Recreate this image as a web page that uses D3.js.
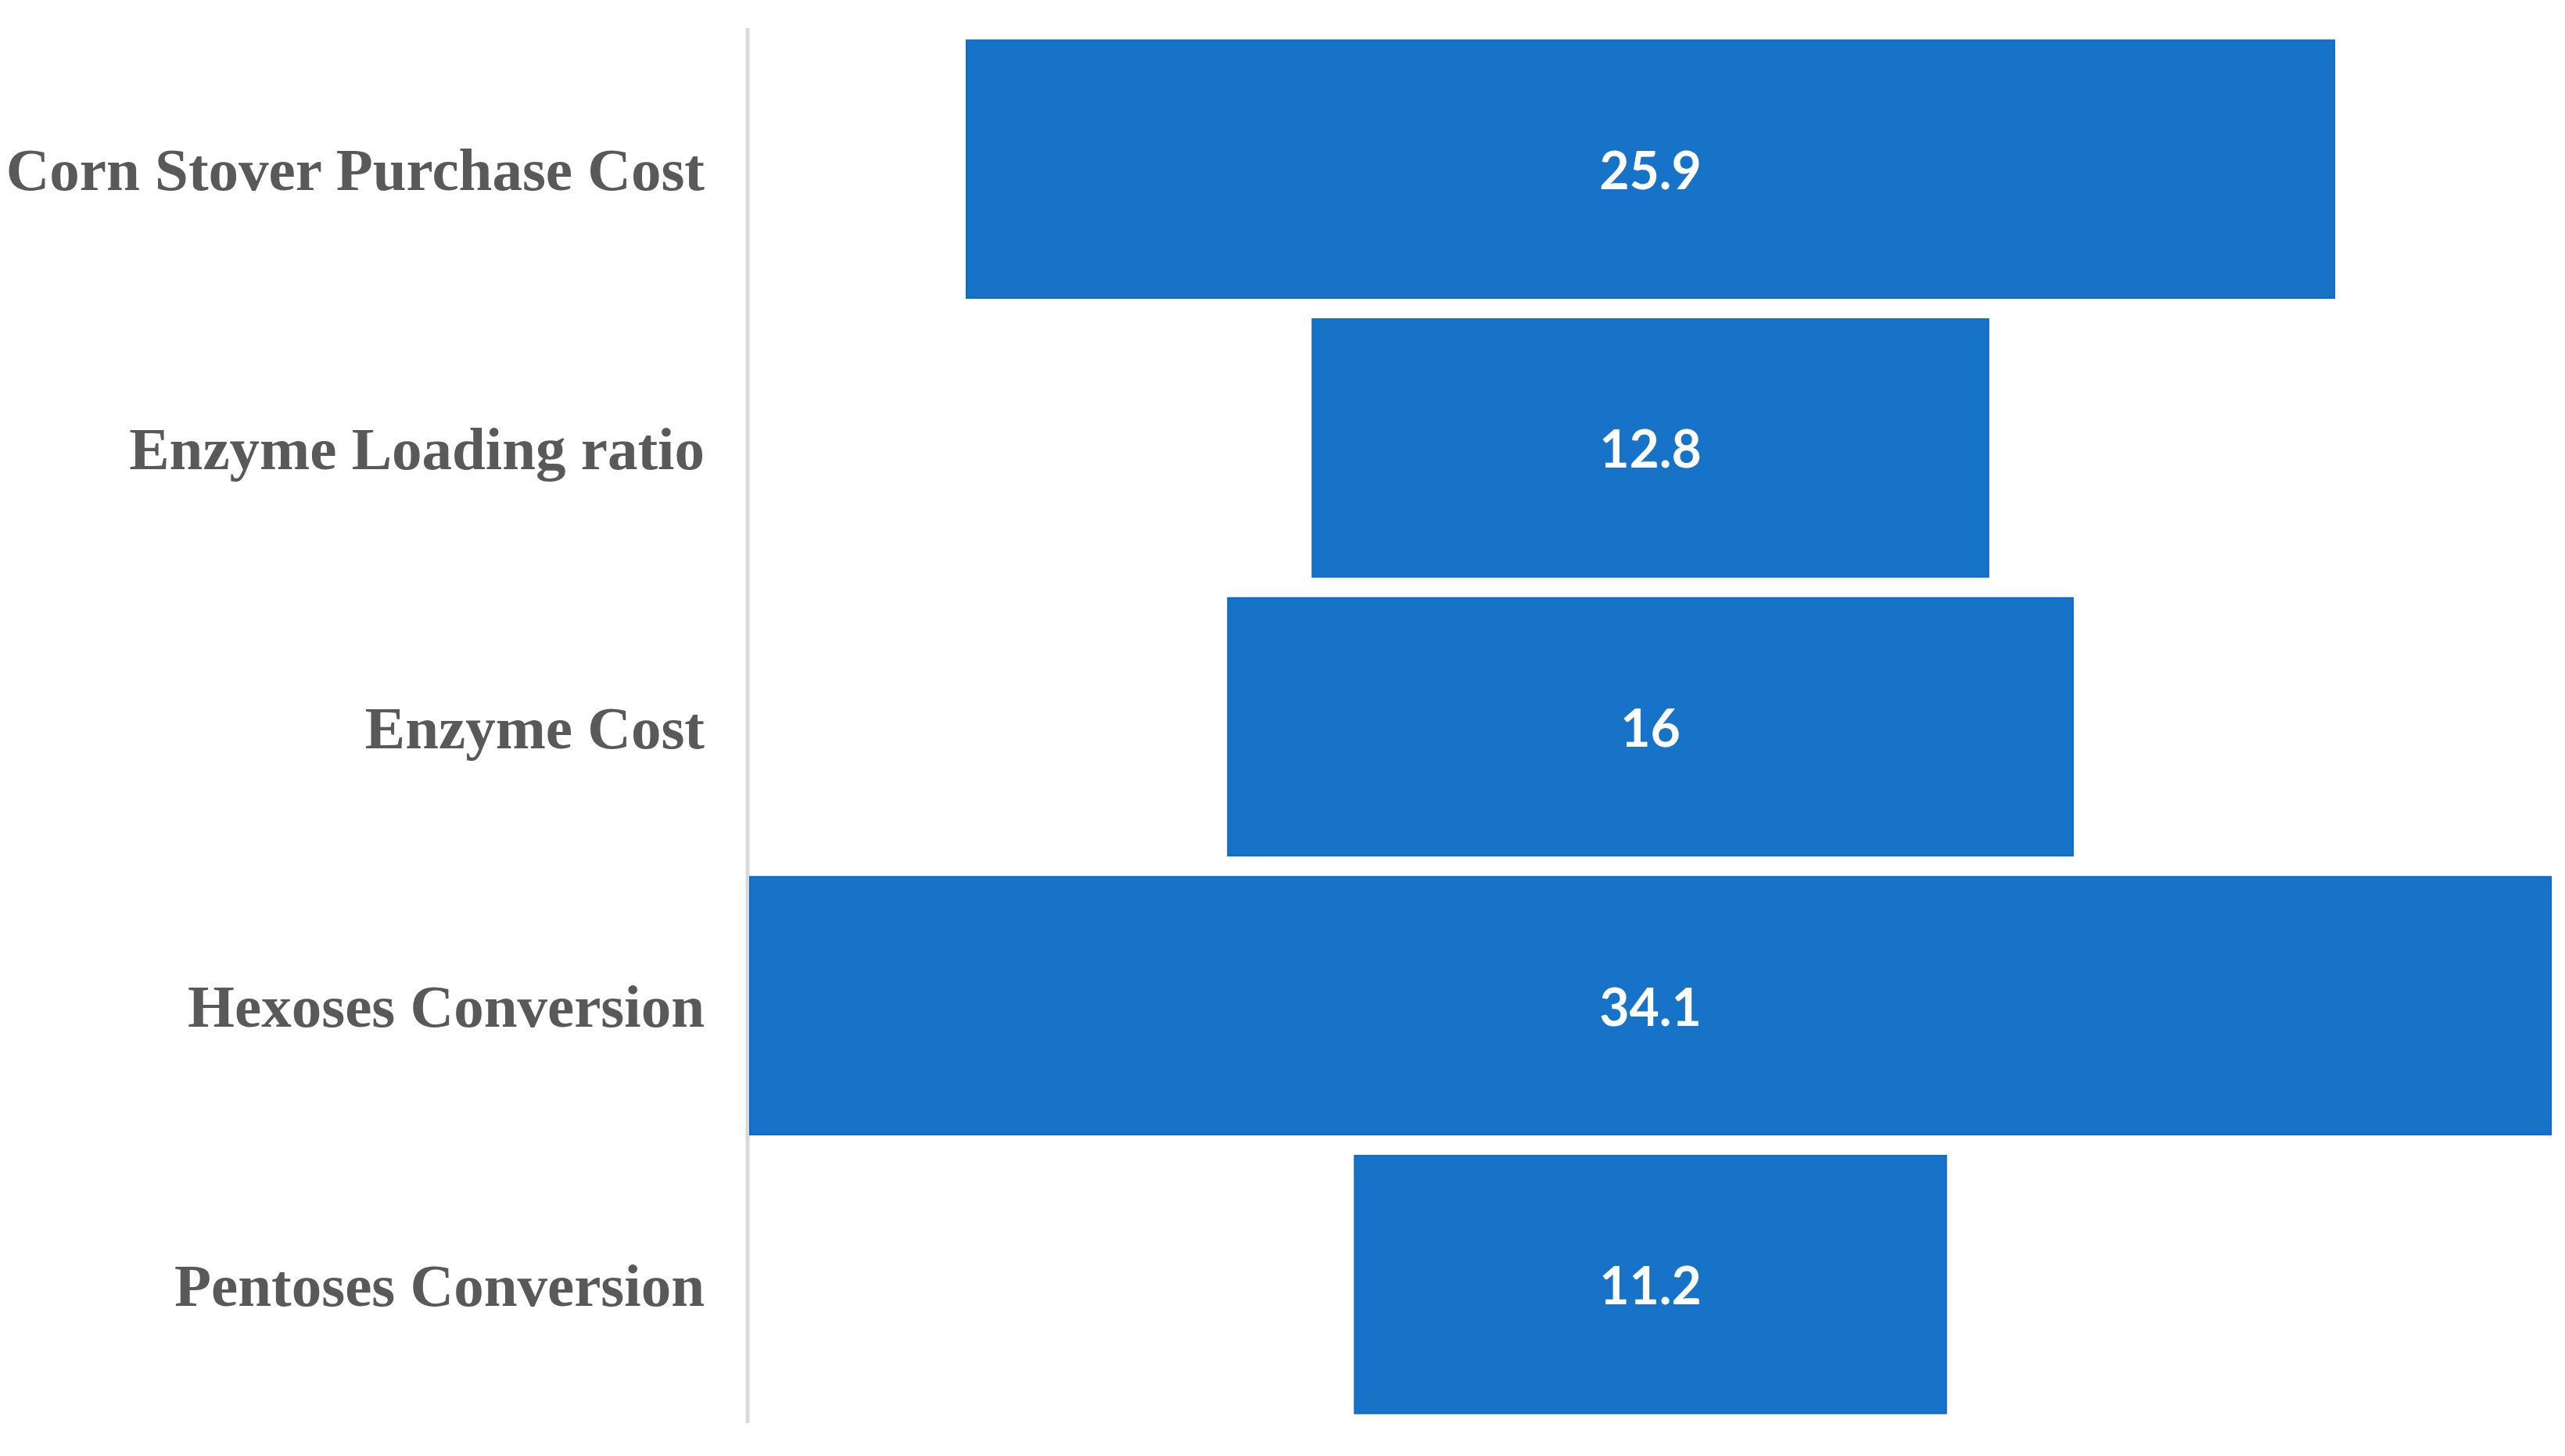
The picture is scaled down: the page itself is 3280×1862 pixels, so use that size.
<!DOCTYPE html>
<html>
<head>
<meta charset="utf-8">
<script src="https://cdn.jsdelivr.net/npm/d3@7"></script>
<style>
  html, body { margin: 0; padding: 0; background: #ffffff; }
  svg { display: block; }
</style>
</head>
<body>
<script>
const categories = ["Corn Stover Purchase Cost", "Enzyme Loading ratio", "Enzyme Cost", "Hexoses Conversion", "Pentoses Conversion"];
const values = [25.9, 12.8, 16, 34.1, 11.2];
const valueLabels = ["25.9", "12.8", "16", "34.1", "11.2"];

const W = 3280, H = 1862;
const axisX = 956;
const plotLeft = 959, plotRight = 3262;
const center = (plotLeft + plotRight) / 2;

const svg = d3.select("body").append("svg")
  .attr("width", W).attr("height", H);

const y = d3.scaleBand()
  .domain(categories)
  .range([38, 1821])
  .paddingInner(0.07)
  .paddingOuter(0.035);

const w = d3.scaleLinear()
  .domain([0, d3.max(values)])
  .range([0, plotRight - plotLeft]);

// axis line
svg.append("line")
  .attr("x1", axisX).attr("x2", axisX)
  .attr("y1", 36).attr("y2", 1820)
  .attr("stroke", "#d9d9d9")
  .attr("stroke-width", 5);

// bars
svg.selectAll("rect.bar")
  .data(categories)
  .join("rect")
  .attr("class", "bar")
  .attr("x", (d, i) => center - w(values[i]) / 2)
  .attr("y", d => y(d) + 1)
  .attr("width", (d, i) => w(values[i]))
  .attr("height", y.bandwidth() - 2)
  .attr("fill", "#1673c8")
  .attr("stroke", "#0a69c9")
  .attr("stroke-width", 2);

// value labels
svg.selectAll("text.val")
  .data(categories)
  .join("text")
  .attr("class", "val")
  .attr("x", center)
  .attr("y", d => y(d) + y.bandwidth() / 2)
  .attr("text-anchor", "middle")
  .attr("dominant-baseline", "central")
  .attr("font-family", "Lato, 'Open Sans', sans-serif")
  .attr("font-weight", "bold")
  .attr("font-size", 66)
  .attr("fill", "#ffffff")
  .text((d, i) => valueLabels[i]);

// category labels
svg.selectAll("text.cat")
  .data(categories)
  .join("text")
  .attr("class", "cat")
  .attr("x", 901)
  .attr("y", d => y(d) + y.bandwidth() / 2 + 27)
  .attr("text-anchor", "end")
  .attr("font-family", "'Liberation Serif', 'DejaVu Serif', serif")
  .attr("font-weight", "bold")
  .attr("font-size", 77)
  .attr("fill", "#595959")
  .text(d => d);
</script>
</body>
</html>
